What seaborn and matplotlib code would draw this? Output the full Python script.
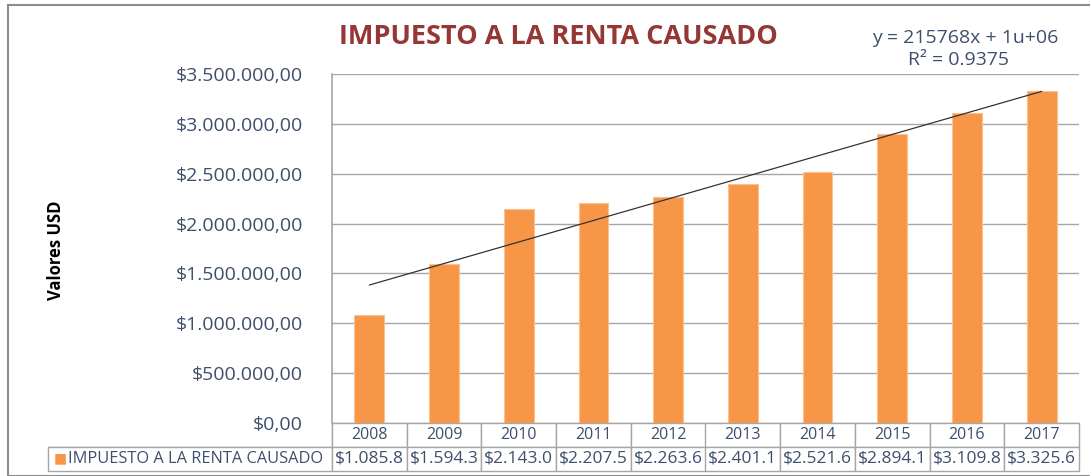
import numpy as np
import pandas as pd
import matplotlib
matplotlib.use("Agg")
import matplotlib.pyplot as plt
import seaborn as sns
from matplotlib.patches import Rectangle

# datos
anios = ["2008", "2009", "2010", "2011", "2012", "2013", "2014", "2015", "2016", "2017"]
impuesto = [1085800, 1594300, 2143000, 2207500, 2263600, 2401100, 2521600, 2894100, 3109800, 3325600]
etiquetas_tabla = ["$1.085.8", "$1.594.3", "$2.143.0", "$2.207.5", "$2.263.6",
                   "$2.401.1", "$2.521.6", "$2.894.1", "$3.109.8", "$3.325.6"]
serie = "IMPUESTO A LA RENTA CAUSADO"
ecuacion = "y = 215768x + 1u+06"
r2_texto = "R² = 0.9375"
ticks_y = [0, 500000, 1000000, 1500000, 2000000, 2500000, 3000000, 3500000]

NARANJA = "#F79646"
AZUL_TXT = "#3E4F6C"
GRIS = "#A6A6A6"

sns.set_theme(style="white")
plt.rcParams['font.family'] = ['Open Sans', 'DejaVu Sans']

df = pd.DataFrame({"anio": anios, "valor": impuesto})

fig = plt.figure(figsize=(10.9, 4.76), dpi=100)
W, H = 1090, 476
x0, x1, ytop, ybot = 332, 1079, 74, 423
ax = fig.add_axes([x0 / W, 1 - ybot / H, (x1 - x0) / W, (ybot - ytop) / H])

sns.barplot(data=df, x="anio", y="valor", color=NARANJA, width=0.4,
            saturation=1, edgecolor="#FAC090", linewidth=0.8, ax=ax, zorder=3)

# linea de tendencia (ajuste lineal)
xs = np.arange(len(anios))
pend, inter = np.polyfit(xs + 1, impuesto, 1)
ax.plot(xs, pend * (xs + 1) + inter, color="#333333", lw=0.9, zorder=4)

ax.set_ylim(0, 3500000)
ax.set_xlim(-0.5, len(anios) - 0.5)
ax.set_yticks(ticks_y)
ax.set_yticklabels(["$" + f"{v:,.2f}".replace(",", "X").replace(".", ",").replace("X", ".") for v in ticks_y],
                   fontsize=14, color=AZUL_TXT)
ax.tick_params(axis="y", length=0, pad=21)
ax.set_xticks([])
ax.set_xlabel("")
ax.set_ylabel("")
ax.yaxis.grid(True, color=GRIS, lw=1, zorder=0)
for s in ["top", "right", "bottom"]:
    ax.spines[s].set_visible(False)
ax.spines["left"].set_color(GRIS)
ax.spines["left"].set_linewidth(1.2)

# tabla de datos bajo el eje
ancho_lbl = (332 - 48) / (x1 - x0)
ancho_col = 1 / len(anios)
filas = [[""] + anios, ["    " + serie] + etiquetas_tabla]
alto = (471 - 423) / (ybot - ytop)
tabla = ax.table(cellText=filas, colWidths=[ancho_lbl] + [ancho_col] * len(anios),
                 bbox=[-ancho_lbl, -alto, 1 + ancho_lbl, alto], cellLoc="center")
tabla.auto_set_font_size(False)
for (r, c), celda in tabla.get_celld().items():
    celda.set_edgecolor(GRIS)
    celda.set_linewidth(1)
    celda.get_text().set_color(AZUL_TXT)
    celda.get_text().set_fontsize(11.5 if r == 0 else 12.5)
    if r == 0 and c == 0:
        celda.visible_edges = "BR"
    if r == 1 and c == 0:
        celda.get_text().set_ha("left")
        celda._loc = "left"
        celda.PAD = 0.01
        celda.get_text().set_fontsize(11.8)
fig.text(60 / W, 1 - 459 / H, "■", color=NARANJA, fontsize=10, va="center", ha="center")

# titulo, ecuacion y etiqueta del eje
fig.text(558 / W, 1 - 37 / H, serie, color="#953735", fontsize=19.5, fontweight="bold",
         ha="center", va="center")
fig.text(965 / W, 1 - 38 / H, ecuacion, color=AZUL_TXT, fontsize=14, ha="center", va="center")
fig.text(958 / W, 1 - 60 / H, r2_texto, color=AZUL_TXT, fontsize=14, ha="center", va="center")
fig.text(56 / W, 1 - 250 / H, "Valores USD", color="black", fontsize=12, fontweight="bold",
         rotation=90, ha="center", va="center")

# marco del area del grafico
fig.patches.append(Rectangle((8 / W, 0), 1.2, 1 - 5 / H, transform=fig.transFigure,
                             fill=False, edgecolor="#8C8C8C", lw=1.5))

fig.savefig("out.png", dpi=100)
